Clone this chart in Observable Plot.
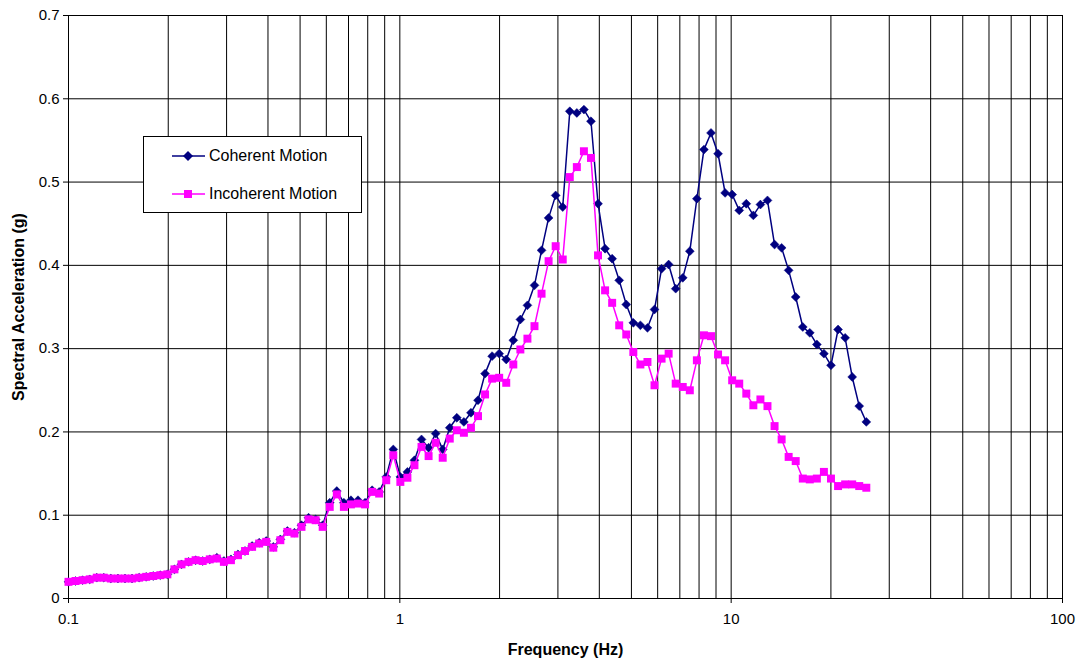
<!DOCTYPE html>
<html><head><meta charset="utf-8">
<script src="https://cdn.jsdelivr.net/npm/d3@7"></script>
<script src="https://cdn.jsdelivr.net/npm/@observablehq/plot@0.6"></script>
<style>
body{margin:0;background:#fff;font-family:"Liberation Sans",Arial,sans-serif;}
#wrap{position:relative;width:1082px;height:662px;}
#legend{position:absolute;left:143px;top:136px;width:219px;height:77px;border:1px solid #000;background:#fff;font-size:16px;box-sizing:border-box;}
#legend .row{position:absolute;left:28px;height:20px;display:flex;align-items:center;}
#legend svg{margin-right:4px;}
g[aria-label="x-axis label"] text, g[aria-label="y-axis label"] text{font-weight:bold;font-size:16px;}
</style></head>
<body><div id="wrap"></div>
<script>
const frequency = [0.1,0.105,0.1103,0.1159,0.1217,0.1278,0.1342,0.141,0.1481,0.1555,
0.1634,0.1716,0.1802,0.1893,0.1988,0.2088,0.2193,0.2303,0.2419,0.2541,
0.2669,0.2803,0.2944,0.3092,0.3247,0.341,0.3582,0.3762,0.3951,0.415,
0.4359,0.4577,0.4808,0.5049,0.5303,0.557,0.585,0.6144,0.6453,0.6778,
0.7119,0.7477,0.7853,0.8248,0.8662,0.9098,0.9555,1.0036,1.054,1.107,
1.1627,1.2212,1.2826,1.3471,1.4148,1.486,1.5607,1.6392,1.7216,1.8082,
1.8991,1.9946,2.0949,2.2002,2.3109,2.4271,2.5492,2.6774,2.812,2.9534,
3.102,3.258,3.4218,3.5939,3.7746,3.9644,4.1638,4.3732,4.5931,4.8241,
5.0667,5.3215,5.5891,5.8702,6.1654,6.4754,6.8011,7.1431,7.5023,7.8796,
8.2759,8.692,9.129,9.588,10.07,10.577,11.109,11.667,12.254,12.87,
13.52,14.2,14.91,15.66,16.45,17.27,18.14,19.05,20.01,21.02,
22.08,23.19,24.35,25.58];
const coherent = [0.020,0.021,0.022,0.023,0.025,0.025,0.024,0.024,0.024,0.024,
0.025,0.026,0.027,0.028,0.029,0.035,0.041,0.044,0.046,0.045,
0.047,0.049,0.045,0.047,0.053,0.057,0.063,0.067,0.069,0.062,
0.071,0.081,0.079,0.088,0.097,0.095,0.088,0.115,0.129,0.115,
0.118,0.118,0.115,0.130,0.128,0.146,0.179,0.146,0.152,0.166,
0.191,0.181,0.198,0.179,0.205,0.217,0.212,0.223,0.238,0.270,
0.291,0.294,0.287,0.310,0.335,0.352,0.376,0.418,0.457,0.484,
0.470,0.585,0.583,0.587,0.573,0.474,0.420,0.408,0.382,0.353,
0.331,0.328,0.325,0.347,0.396,0.401,0.372,0.385,0.417,0.480,
0.539,0.559,0.534,0.487,0.485,0.466,0.474,0.460,0.473,0.478,
0.425,0.421,0.394,0.362,0.326,0.319,0.305,0.294,0.280,0.323,
0.313,0.266,0.231,0.212];
const incoherent = [0.020,0.021,0.022,0.023,0.025,0.025,0.024,0.024,0.024,0.024,
0.025,0.026,0.027,0.028,0.029,0.035,0.041,0.044,0.046,0.045,
0.047,0.048,0.044,0.046,0.052,0.057,0.062,0.066,0.068,0.061,
0.070,0.080,0.078,0.086,0.095,0.094,0.086,0.110,0.125,0.110,
0.113,0.114,0.113,0.128,0.126,0.142,0.172,0.140,0.145,0.160,
0.182,0.171,0.187,0.169,0.192,0.202,0.199,0.205,0.219,0.245,
0.264,0.265,0.259,0.281,0.299,0.312,0.327,0.366,0.405,0.423,
0.407,0.506,0.518,0.537,0.529,0.412,0.370,0.355,0.328,0.317,
0.296,0.281,0.284,0.256,0.288,0.294,0.258,0.254,0.250,0.286,
0.316,0.315,0.293,0.286,0.262,0.258,0.246,0.232,0.239,0.231,
0.207,0.191,0.170,0.165,0.144,0.143,0.144,0.152,0.144,0.135,
0.137,0.137,0.135,0.133];
const seriesNames = ["Coherent Motion","Incoherent Motion"];
const seriesColors = ["#000080","#FF00FF"];
const xTicks = [0.1,1,10,100];
const xGrid = [0.1,0.2,0.3,0.4,0.5,0.6,0.7,0.8,0.9,1,2,3,4,5,6,7,8,9,10,20,30,40,50,60,70,80,90,100];
const yTicks = [0,0.1,0.2,0.3,0.4,0.5,0.6,0.7];

const rows = frequency.map((f,i)=>({f, coh: coherent[i], inc: incoherent[i]}));

const chart = Plot.plot({
  width:1082, height:662, marginLeft:68, marginRight:20, marginTop:15, marginBottom:64,
  style:{fontFamily:"'Liberation Sans', Arial, sans-serif", fontSize:"15px", background:"#fff", color:"#000", overflow:"visible"},
  x:{type:"log", domain:[0.1,100]},
  y:{domain:[0,0.7]},
  marks:[
    Plot.ruleX(xGrid,{stroke:"#000",strokeWidth:1}),
    Plot.ruleY(yTicks,{stroke:"#000",strokeWidth:1}),
    Plot.frame({stroke:"#000"}),
    Plot.axisX({ticks:xTicks, tickFormat:d=>String(d), tickSize:5, tickPadding:10, label:"Frequency (Hz)", labelAnchor:"center", labelArrow:"none", labelOffset:56}),
    Plot.axisY({ticks:yTicks, tickFormat:d=>String(d), tickSize:5, tickPadding:4, label:"Spectral Acceleration (g)", labelAnchor:"center", labelArrow:"none", labelOffset:56}),
    Plot.line(rows,{x:"f",y:"coh",stroke:seriesColors[0],strokeWidth:1.5}),
    Plot.dot(rows,{x:"f",y:"coh",symbol:"diamond2",r:4,fill:seriesColors[0],stroke:seriesColors[0],strokeWidth:0.5}),
    Plot.line(rows,{x:"f",y:"inc",stroke:seriesColors[1],strokeWidth:1.5}),
    Plot.dot(rows,{x:"f",y:"inc",symbol:"square",r:4.5,fill:seriesColors[1],stroke:"none"})
  ]
});
const wrap = document.getElementById("wrap");
wrap.appendChild(chart);

const legend = document.createElement("div");
legend.id = "legend";
seriesNames.forEach((name,i)=>{
  const row = document.createElement("div");
  row.className = "row";
  row.style.top = (i===0 ? 9 : 47) + "px";
  const marker = i===0
    ? `<polygon points="16,5 21,10 16,15 11,10" fill="${seriesColors[i]}"/>`
    : `<rect x="12" y="6" width="8" height="8" fill="${seriesColors[i]}"/>`;
  row.innerHTML = `<svg width="33" height="20"><line x1="0" y1="10" x2="33" y2="10" stroke="${seriesColors[i]}" stroke-width="1.5"/>${marker}</svg><span>${name}</span>`;
  legend.appendChild(row);
});
wrap.appendChild(legend);
</script>
</body></html>
